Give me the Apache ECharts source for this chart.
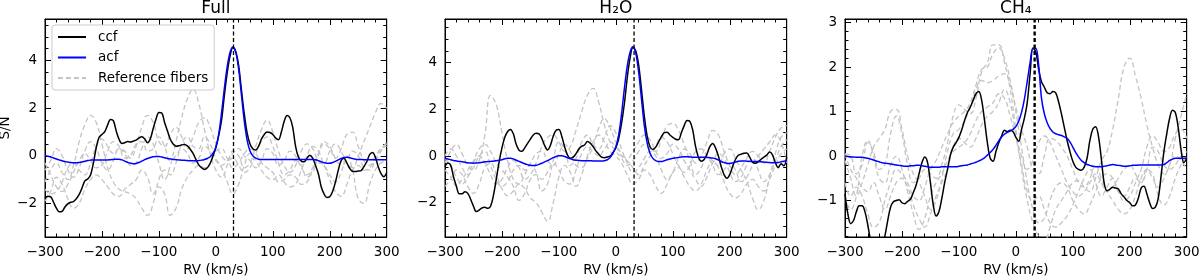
<!DOCTYPE html>
<html><head><meta charset="utf-8">
<script src="https://cdn.jsdelivr.net/npm/echarts@6/dist/echarts.min.js"></script>
<style>html,body{margin:0;padding:0;background:#fff}#c{width:1200px;height:276px}</style>
</head><body><div id="c"></div>
<script>
// sampling grids (RV, km/s)
const rv5 = []; for (let v = -300; v <= 300; v += 5) rv5.push(v);
const rv10 = []; for (let v = -300; v <= 300; v += 10) rv10.push(v);

const panelTitles = ['Full', 'H\u2082O', 'CH\u2084'];
const xLabelName = 'RV (km/s)';
const yLabelName = 'S/N';
const markRV = [31, 32, 33];
const yRange = [[-3.41, 5.75], [-3.47, 5.87], [-1.82, 3.08]];
const yMajor = [[-2, 0, 2, 4], [-2, 0, 2, 4], [-1, 0, 1, 2, 3]];
const yMinorA = [-3, -2.5, -1.5, -1, -0.5, 0.5, 1, 1.5, 2.5, 3, 3.5, 4.5, 5, 5.5];
const yMinorC = [-1.8, -1.6, -1.4, -1.2, -0.8, -0.6, -0.4, -0.2, 0.2, 0.4, 0.6, 0.8, 1.2, 1.4, 1.6, 1.8, 2.2, 2.4, 2.6, 2.8];
const yMinor = [yMinorA, yMinorA, yMinorC];

// ---- Full (step 5)
const fullCcf = [
-1.78,-1.70,-1.72,-1.95,-2.20,-2.35,-2.33,-2.15,-2.02,-1.95,
-1.92,-1.80,-1.62,-1.35,-1.05,-0.97,-0.80,-0.30,0.35,0.78,
0.90,1.02,1.30,1.53,1.48,1.05,0.70,0.52,0.55,0.60,
0.58,0.62,0.66,0.75,0.80,0.72,0.55,0.72,1.15,1.55,
1.82,1.80,1.40,1.05,0.70,0.50,0.40,0.42,0.46,0.48,
0.42,0.28,0.10,-0.15,-0.38,-0.50,-0.57,-0.50,-0.32,0.00,
0.35,0.85,1.50,2.55,3.50,4.20,4.55,4.38,3.80,2.75,
1.75,0.95,0.50,0.30,0.25,0.40,0.70,0.90,1.00,0.98,
0.90,0.75,0.68,1.00,1.45,1.70,1.60,1.20,0.40,-0.05,
-0.22,-0.25,-0.10,0.03,-0.10,-0.40,-0.75,-1.30,-1.60,-1.75,
-1.72,-1.50,-1.10,-0.60,-0.20,-0.10,-0.30,-0.52,-0.65,-0.66,
-0.64,-0.62,-0.45,-0.25,0.05,0.14,-0.05,-0.45,-0.75,-0.88,
-0.70];
const fullAcf = [
0.00,-0.02,-0.05,-0.09,-0.13,-0.17,-0.21,-0.24,-0.26,-0.28,
-0.29,-0.29,-0.28,-0.26,-0.23,-0.20,-0.18,-0.17,-0.17,-0.17,
-0.17,-0.17,-0.17,-0.16,-0.15,-0.14,-0.14,-0.17,-0.22,-0.27,
-0.31,-0.33,-0.32,-0.28,-0.22,-0.16,-0.11,-0.07,-0.04,-0.03,
-0.03,-0.05,-0.08,-0.11,-0.13,-0.15,-0.16,-0.17,-0.18,-0.19,
-0.20,-0.21,-0.21,-0.21,-0.20,-0.18,-0.15,-0.11,-0.04,0.10,
0.35,0.90,1.80,2.85,3.75,4.35,4.57,4.35,3.65,2.55,
1.45,0.65,0.20,0.00,-0.10,-0.14,-0.15,-0.15,-0.15,-0.15,
-0.15,-0.15,-0.15,-0.15,-0.15,-0.15,-0.15,-0.15,-0.15,-0.15,
-0.15,-0.15,-0.15,-0.15,-0.15,-0.16,-0.20,-0.25,-0.29,-0.31,
-0.31,-0.28,-0.23,-0.17,-0.11,-0.07,-0.06,-0.08,-0.11,-0.14,
-0.15,-0.15,-0.16,-0.16,-0.16,-0.16,-0.16,-0.16,-0.16,-0.16,
-0.16];
// reference fibers (step 10)
const fullRef1 = [-0.6,-0.2,0.3,0.0,-0.6,-0.9,-0.5,0.2,0.6,0.3, -0.3,-0.6,-0.2,0.3,0.1,-0.4,-0.3,0.3,0.8,0.5, -0.3,-1.0,-0.4,0.6,1.6,2.4,2.8,2.2,1.1,0.1, -0.6,-0.9,-0.4,0.2,0.0,-0.5,-0.3,0.4,1.1,1.5, 1.0,0.2,-0.4,-0.7,-0.4,0.2,0.5,0.3,-0.2,-0.3, 0.2,0.5,0.2,-0.3,-0.5,0.0,0.6,1.2,1.8,2.2, 2.0];
const fullRef2 = [-1.1,-0.6,-0.3,-0.7,-1.0,-0.4,0.6,1.3,1.7,1.4, 0.5,-0.5,-1.1,-1.4,-1.5,-1.6,-1.8,-2.2,-2.5,-2.0, -1.0,-0.6,-0.8,-0.3,0.5,0.8,0.4,0.3,0.8,0.5, -0.1,-0.5,-1.1,-1.6,-1.2,-0.4,0.1,-0.2,-0.6,-0.9, -1.0,-0.8,-1.1,-1.3,-1.2,-0.6,0.0,0.4,0.2,-0.4, -1.0,-1.5,-1.7,-1.2,-0.6,-0.4,-0.6,-0.5,-0.1,0.3, 0.5];
const fullRef3 = [-1.4,-1.6,-1.5,-1.1,-0.5,-0.3,-0.6,-0.8,-0.3,0.4, 0.7,0.4,0.1,0.3,0.2,-0.1,0.4,1.2,1.7,1.4, 0.6,0.4,0.9,1.2,0.8,0.3,0.8,1.4,1.6,1.2, 0.5,0.0,-0.2,-0.1,-0.4,-0.7,-0.5,0.1,0.6,0.8, 0.4,-0.3,-0.8,-0.6,-0.2,-0.4,-0.9,-0.7,0.0,0.5, 0.3,-0.1,0.3,0.9,1.0,0.4,-0.2,-0.4,0.0,0.3, 0.4];
const fullRef4 = [-1.9,-1.5,-0.9,-1.2,-1.8,-2.2,-2.0,-1.4,-1.0,-0.8, -1.0,-1.3,-1.6,-1.7,-1.4,-1.2,-1.0,-0.6,-0.9,-1.6, -1.3,-1.6,-2.5,-2.2,-1.4,-0.9,-0.6,-0.4,-0.5,-0.3, 0.2,0.3,-0.1,-0.5,-0.3,0.1,0.3,0.1,-0.3,-0.5, -0.7,-1.1,-1.0,-0.8,-0.9,-1.2,-1.1,-0.6,-0.3,-0.4, -0.8,-1.1,-0.7,0.0,-0.6,-1.8,-2.0,-1.2,-0.6,-0.3, -0.2];
const fullRef5 = [-0.3,-0.8,-1.3,-1.5,-1.2,-0.7,-0.2,0.1,-0.2,-0.5, -0.4,0.2,0.6,0.4,-0.1,0.0,0.5,0.6,0.2,0.3, 0.8,0.4,-0.2,0.0,0.3,0.1,-0.3,-0.1,0.4,0.2, -0.2,-0.4,-0.2,0.1,0.3,0.0,-0.2,-0.5,-0.2,0.3, 0.1,-0.4,-0.2,0.2,0.0,-0.5,-0.8,-0.5,0.1,0.6, 0.4,-0.1,-0.4,-0.2,0.2,0.0,-0.5,-0.6,-0.2,0.2, 0.6];

// ---- H2O (step 5)
const h2oCcf = [
-0.45,-0.30,-0.40,-0.90,-1.30,-1.62,-1.62,-1.53,-1.60,-1.85,
-2.15,-2.38,-2.32,-2.22,-2.20,-2.24,-2.15,-1.70,-1.00,-0.25,
0.35,0.80,1.05,1.14,0.95,0.50,0.25,0.20,0.35,0.54,
0.72,0.90,0.97,0.95,0.75,0.45,0.26,0.45,0.85,1.10,
1.14,0.85,0.40,0.05,-0.10,-0.05,0.10,0.30,0.42,0.47,
0.62,0.55,0.40,0.22,0.08,-0.05,-0.07,-0.04,0.00,0.15,
0.35,0.75,1.40,2.25,3.35,4.20,4.65,4.50,3.90,2.85,
1.70,0.85,0.40,0.28,0.38,0.60,0.83,1.00,1.02,0.90,
0.80,0.72,0.70,1.00,1.30,1.52,1.48,1.11,0.40,-0.05,
-0.22,-0.15,0.08,0.40,0.54,0.35,0.00,-0.45,-0.80,-0.95,
-0.80,-0.45,-0.15,0.03,0.08,0.12,0.13,-0.05,-0.27,-0.31,
-0.25,-0.14,-0.05,0.04,0.17,0.05,-0.28,-0.50,-0.33,-0.42,
-0.05];
const h2oAcf = [
-0.10,-0.13,-0.16,-0.19,-0.21,-0.23,-0.25,-0.27,-0.29,-0.30,
-0.31,-0.30,-0.29,-0.27,-0.25,-0.24,-0.23,-0.22,-0.20,-0.18,
-0.16,-0.12,-0.10,-0.10,-0.13,-0.18,-0.23,-0.28,-0.33,-0.37,
-0.40,-0.41,-0.40,-0.36,-0.31,-0.25,-0.20,-0.13,-0.07,-0.02,
0.01,0.01,-0.02,-0.07,-0.12,-0.16,-0.18,-0.19,-0.20,-0.20,
-0.20,-0.20,-0.21,-0.21,-0.21,-0.21,-0.20,-0.16,-0.06,0.12,
0.40,0.90,1.80,2.90,3.85,4.45,4.68,4.40,3.60,2.45,
1.30,0.55,0.12,-0.10,-0.20,-0.24,-0.24,-0.20,-0.16,-0.13,
-0.10,-0.08,-0.06,-0.04,-0.03,-0.03,-0.04,-0.05,-0.05,-0.05,
-0.05,-0.05,-0.06,-0.07,-0.09,-0.12,-0.17,-0.23,-0.28,-0.31,
-0.32,-0.30,-0.26,-0.22,-0.21,-0.21,-0.22,-0.23,-0.24,-0.24,
-0.24,-0.25,-0.26,-0.27,-0.28,-0.29,-0.29,-0.28,-0.25,-0.22,
-0.20];
const h2oRef1 = [-0.3,0.2,0.5,0.1,-0.4,-0.6,-0.2,0.9,2.6,2.2, 1.0,-0.2,-1.0,-1.2,-0.8,-0.4,-0.7,-1.5,-1.2,-0.2, 0.6,0.3,-0.4,-0.1,0.6,0.9,0.5,0.3,0.8,1.3, 1.0,0.3,-0.3,-0.7,-0.5,-0.1,0.2,0.0,-0.6,-1.0, -0.7,-0.1,0.3,0.1,-0.3,0.0,0.6,1.1,0.9,0.2, -0.4,-0.8,-0.5,-0.1,0.2,0.0,-0.3,0.2,0.8,1.2, 1.3];
const h2oRef2 = [-1.3,-1.0,-0.6,-0.8,-1.3,-1.6,-1.2,-0.5,-0.3,-0.8, -1.4,-1.7,-1.5,-1.2,-1.4,-1.8,-2.0,-2.4,-2.8,-2.0, -0.9,-0.4,-0.7,-1.3,-0.8,0.0,0.6,0.9,0.6,0.2, 0.0,-0.3,-0.8,-1.2,-1.0,-0.6,-0.8,-1.3,-1.6,-1.2, -0.7,-0.5,-0.9,-1.3,-1.5,-1.2,-0.6,-0.2,-0.5,-1.1, -1.6,-1.8,-1.6,-1.2,-1.0,-1.3,-1.5,-1.0,-0.4,0.1, 0.3];
const h2oRef3 = [-0.1,-0.4,-0.9,-1.2,-0.9,-0.3,0.0,-0.3,-0.8,-1.2, -1.0,-0.5,-0.2,-0.5,-1.0,-0.8,-0.3,0.4,0.8,0.9, 0.6,0.2,0.4,1.1,1.9,2.6,2.9,2.3,1.3,0.6, 0.2,-0.1,-0.4,-0.2,0.2,0.5,0.3,0.2,0.7,1.3, 1.4,1.1,0.5,-0.2,-0.8,-0.5,0.0,-0.2,-0.4,0.1, 0.3,-0.1,-0.6,-1.1,-1.8,-2.3,-1.9,-0.9,0.1,0.8, 1.0];
const h2oRef4 = [-0.6,-0.9,-1.3,-1.0,-0.6,-0.2,0.3,0.5,0.2,-0.3, -0.6,-0.9,-1.3,-1.9,-1.6,-1.0,-0.8,-1.0,-0.7,-0.3, -0.6,-1.1,-1.2,-0.6,0.1,0.4,0.2,0.0,0.3,0.6, 0.4,0.0,-0.2,-0.5,-0.8,-0.4,0.0,0.4,0.8,0.6, 0.1,-0.4,-0.7,-0.4,0.2,0.3,0.0,-0.4,-0.8,-0.6, -0.3,-0.6,-1.1,-0.9,-0.4,0.0,0.3,0.6,0.9,0.6, -0.3];
const h2oRef5 = [0.0,0.3,0.0,-0.5,-0.8,-0.5,0.0,0.2,-0.4,-1.0, -1.3,-1.1,-0.6,-0.4,-0.6,-0.3,0.1,0.2,-0.2,-0.4, 0.1,0.5,0.2,-0.4,-0.5,-0.1,0.4,1.2,1.6,1.2, 0.6,0.1,-0.1,0.2,0.6,0.9,0.7,0.2,-0.1,0.1, 0.5,0.3,-0.2,-0.6,-1.0,-1.3,-0.9,-0.3,0.1,-0.1, -0.7,-1.1,-0.9,-0.4,-0.1,-0.6,-1.1,-0.8,-0.2,0.4, 0.7];

// ---- CH4 (step 5)
const ch4Ccf = [
-0.85,-1.30,-1.52,-1.45,-1.25,-1.12,-1.12,-1.25,-1.55,-1.90,
-2.10,-2.20,-2.15,-2.00,-1.80,-1.45,-1.15,-1.03,-1.00,-0.98,
-1.05,-1.07,-1.02,-0.97,-0.82,-0.65,-0.40,-0.15,-0.02,-0.15,
-0.60,-1.10,-1.35,-1.25,-0.95,-0.60,-0.30,0.02,0.20,0.30,
0.42,0.59,0.80,0.98,1.10,1.25,1.40,1.45,1.25,0.80,
0.30,-0.05,-0.12,0.10,0.30,0.45,0.58,0.55,0.58,0.55,
0.42,0.33,0.60,0.85,1.20,1.85,2.42,2.35,1.95,1.67,
1.55,1.42,1.40,1.45,1.42,1.22,0.95,0.65,0.35,0.10,
-0.12,-0.25,-0.30,-0.32,-0.25,-0.05,0.35,0.60,0.66,0.45,
-0.05,-0.60,-0.78,-0.75,-0.70,-0.72,-0.74,-0.85,-0.92,-1.00,
-1.05,-1.12,-1.10,-0.95,-0.72,-0.68,-0.85,-1.05,-1.18,-1.15,
-0.95,-0.45,0.10,0.50,0.85,1.03,0.98,0.65,0.15,-0.15,
-0.05];
const ch4Acf = [
0.00,-0.01,-0.02,-0.02,-0.03,-0.03,-0.03,-0.04,-0.05,-0.07,
-0.09,-0.11,-0.13,-0.15,-0.16,-0.17,-0.18,-0.19,-0.20,-0.21,
-0.22,-0.23,-0.23,-0.22,-0.22,-0.21,-0.21,-0.22,-0.23,-0.24,
-0.25,-0.25,-0.25,-0.25,-0.24,-0.24,-0.24,-0.24,-0.24,-0.24,
-0.23,-0.22,-0.21,-0.20,-0.18,-0.16,-0.14,-0.11,-0.08,-0.04,
0.02,0.08,0.15,0.24,0.34,0.43,0.49,0.53,0.56,0.60,
0.66,0.78,0.98,1.28,1.68,2.10,2.42,2.42,2.05,1.30,
0.95,0.75,0.62,0.54,0.50,0.48,0.46,0.43,0.40,0.32,
0.20,0.08,-0.02,-0.10,-0.15,-0.19,-0.21,-0.23,-0.24,-0.24,
-0.24,-0.23,-0.22,-0.20,-0.19,-0.20,-0.21,-0.22,-0.23,-0.23,
-0.22,-0.21,-0.21,-0.20,-0.20,-0.20,-0.20,-0.20,-0.20,-0.20,
-0.20,-0.20,-0.19,-0.15,-0.10,-0.07,-0.05,-0.05,-0.05,-0.05,
-0.05];
const ch4Ref1 = [0.05,0.0,-0.4,-0.2,0.3,0.1,-0.3,-0.2,0.5,0.9, 0.5,-0.2,-0.6,-0.5,-0.3,-0.4,-0.5,-0.2,0.3,0.9, 1.15,1.05,0.95,1.3,1.9,2.1,2.5,2.5,2.1,1.5, 0.6,-0.3,-1.0,-1.5,-1.8,-1.9,-1.6,-1.2,-1.0,-0.8, -0.6,-0.55,-0.7,-0.8,-0.5,-0.1,0.1,0.6,1.3,2.0, 2.2,1.8,1.3,0.7,0.2,-0.2,-0.4,-0.2,0.4,0.9, 1.4];
const ch4Ref2 = [-0.6,-0.9,-0.7,-0.9,-1.3,-1.6,-1.5,-1.0,-0.6,-0.3, -0.4,-0.6,-0.9,-1.0,-0.7,-0.3,-0.1,0.2,0.5,0.75, 0.9,1.0,1.2,1.6,1.95,2.0,2.3,2.43,2.2,1.7, 1.0,0.2,-0.6,-1.2,-1.5,-1.4,-1.0,-0.7,-0.6,-0.7, -1.0,-1.2,-1.3,-1.1,-0.8,-0.5,-0.4,-0.5,-0.8,-1.0, -0.9,-0.6,-0.3,0.2,0.45,0.3,0.1,0.2,0.5,0.6, 0.4];
const ch4Ref3 = [-0.1,-0.5,-0.9,-0.6,-0.2,0.2,0.4,0.6,1.0,1.05, 0.6,0.0,-0.4,-0.6,-0.9,-1.2,-1.0,-0.5,0.1,0.5, 0.6,0.8,1.1,1.5,1.7,1.65,1.7,1.8,1.85,1.6, 1.1,0.6,0.2,-0.3,-0.4,0.0,0.4,0.35,0.2,0.0, -0.3,-0.6,-0.7,-0.5,-0.2,-0.5,-0.8,-1.0,-1.2,-1.3, -1.2,-0.9,-0.5,-0.3,-0.5,-0.7,-0.5,-0.2,0.0,-0.1, -0.3];
const ch4Ref4 = [-0.9,-1.2,-0.9,0.0,0.35,0.0,-0.5,-0.6,-0.2,0.0, -0.3,-0.8,-1.3,-1.65,-1.4,-0.9,-0.6,-0.4,-0.1,0.1, 0.2,0.3,0.5,0.8,1.0,1.1,1.2,1.4,1.3,0.9, 0.4,-0.2,-0.8,-1.0,-0.9,-1.2,-1.5,-1.6,-1.5,-1.35, -1.1,-0.8,-0.5,-0.3,-0.6,-0.9,-0.7,-0.5,-0.8,-0.9, -0.7,-0.5,-0.6,-0.3,-0.4,-0.9,-1.1,-0.9,-0.5,-0.2, 0.0];
const ch4Ref5 = [0.05,-0.3,-0.5,-0.7,-0.8,-0.6,-0.9,-1.2,-0.9,-0.6, -0.5,-0.7,-1.1,-1.4,-1.6,-1.3,-0.9,-0.6,-0.3,0.2, 0.4,0.3,0.2,0.4,0.7,0.9,1.0,1.2,1.5,1.2, 0.5,0.0,-0.3,-0.1,0.3,0.45,0.3,0.0,-0.3,-0.6, -0.8,-0.9,-0.8,-0.6,-0.4,-0.6,-0.8,-0.7,-0.5,-0.3, -0.2,-0.4,-0.6,-0.3,0.2,0.1,-0.2,-0.3,-0.2,0.0, 0.1];

const panels = [
  {ccf: fullCcf, acf: fullAcf, refs: [fullRef1, fullRef2, fullRef3, fullRef4, fullRef5]},
  {ccf: h2oCcf, acf: h2oAcf, refs: [h2oRef1, h2oRef2, h2oRef3, h2oRef4, h2oRef5]},
  {ccf: ch4Ccf, acf: ch4Acf, refs: [ch4Ref1, ch4Ref2, ch4Ref3, ch4Ref4, ch4Ref5]}
];

// ---- layout / style
const FF = 'DejaVu Sans';
const GL = [45, 445, 845], GW = 341.7, GT = 19, GH = 218;
const fmt = v => String(v).replace('-', '\u2212');
const lineSt = () => ({color: '#000', width: 1});
const labelSt = () => ({fontSize: 13.5, fontFamily: FF, color: '#000'});
const axLine = show => ({show: show, onZero: false, lineStyle: lineSt()});
const hidden = (g) => ({type: 'value', gridIndex: g, show: false, min: 0, max: 1,
  axisLine: {show: false, onZero: false}, splitLine: {show: false}});

const grids = [], xAxes = [], yAxes = [], series = [], titles = [];
for (let p = 0; p < 3; p++) {
  const gMain = grids.length;
  grids.push({left: GL[p], top: GT, width: GW, height: GH, show: true, outerBoundsMode: 'none',
    borderColor: '#000', borderWidth: 1, backgroundColor: 'transparent'});
  const gTop = grids.length;
  grids.push({left: GL[p], top: 0, width: GW, height: GT, outerBoundsMode: 'none'});
  const gRight = grids.length;
  grids.push({left: GL[p] + GW, top: GT, width: 10, height: GH, outerBoundsMode: 'none'});

  titles.push({text: panelTitles[p], left: GL[p] + GW / 2, top: 0, textAlign: 'center', padding: 0, z: 20,
    textStyle: {fontSize: 17, fontWeight: 'normal', fontFamily: FF, color: '#000'}});

  const xTicks = (g, inside) => ({type: 'value', gridIndex: g, min: -300, max: 300, interval: 100,
    position: 'bottom', splitLine: {show: false}, axisLine: axLine(true),
    axisTick: {show: true, inside: inside, length: 6, lineStyle: lineSt()},
    minorTick: {show: true, splitNumber: 5, length: 3.5, lineStyle: lineSt()},
    minorSplitLine: {show: false}, axisLabel: {show: false}});
  const yTicks = (g, inside, len, vals, show) => ({type: 'value', gridIndex: g, position: 'left',
    min: yRange[p][0], max: yRange[p][1], splitLine: {show: false}, axisLine: axLine(show),
    axisTick: {show: true, inside: inside, length: len, customValues: vals, lineStyle: lineSt()},
    axisLabel: {show: false}});

  // main grid axes
  const ix = xAxes.length;
  xAxes.push(Object.assign(xTicks(gMain, true), {
    axisLabel: Object.assign({show: true, margin: 8, formatter: fmt}, labelSt()),
    name: xLabelName, nameLocation: 'middle', nameGap: 23, nameTextStyle: labelSt()}));
  const iy = yAxes.length;
  yAxes.push(Object.assign(yTicks(gMain, true, 6, yMajor[p], true), {
    axisLabel: Object.assign({show: true, margin: 8, customValues: yMajor[p], formatter: fmt}, labelSt()),
    name: p === 0 ? yLabelName : '', nameLocation: 'middle', nameGap: 33, nameRotate: 90, nameTextStyle: labelSt()}));
  yAxes.push(yTicks(gMain, true, 3.5, yMinor[p], false));
  // top edge ticks: bottom axis of a strip grid above the panel, ticks pointing down into the panel
  xAxes.push(xTicks(gTop, false));
  yAxes.push(hidden(gTop));
  // right edge ticks: left axis of a strip grid right of the panel, ticks pointing left into the panel
  xAxes.push(hidden(gRight));
  yAxes.push(yTicks(gRight, false, 6, yMajor[p], true));
  yAxes.push(yTicks(gRight, false, 3.5, yMinor[p], false));

  const P = panels[p];
  P.refs.forEach(r => series.push({type: 'line', name: 'Reference fibers', xAxisIndex: ix, yAxisIndex: iy,
    data: rv10.map((x, i) => [x, r[i]]), symbol: 'none', showSymbol: false, smooth: 0.45,
    lineStyle: {color: '#c4c4c4', width: 1.3, type: [5, 3]}, itemStyle: {color: '#c4c4c4'}, z: 1}));
  series.push({type: 'line', name: 'ccf', xAxisIndex: ix, yAxisIndex: iy,
    data: rv5.map((x, i) => [x, P.ccf[i]]), symbol: 'none', showSymbol: false, smooth: 0.35,
    lineStyle: {color: '#000', width: 1.5}, itemStyle: {color: '#000'}, z: 2});
  series.push({type: 'line', name: 'acf', xAxisIndex: ix, yAxisIndex: iy,
    data: rv5.map((x, i) => [x, P.acf[i]]), symbol: 'none', showSymbol: false, smooth: 0.35,
    lineStyle: {color: '#0000ff', width: 1.5}, itemStyle: {color: '#0000ff'}, z: 3});
  // vertical dashed marker at the planet RV, spanning the axis range
  series.push({type: 'line', name: 'rvMark' + p, xAxisIndex: ix, yAxisIndex: iy,
    data: [[markRV[p], yRange[p][0]], [markRV[p], yRange[p][1]]], symbol: 'none', showSymbol: false,
    silent: true, lineStyle: {color: '#000', type: [4, 2.5], width: p === 2 ? 2.4 : 1.3}, z: 4});
}

const chart = echarts.init(document.getElementById('c'), null, {renderer: 'canvas'});
chart.setOption({
  animation: false,
  backgroundColor: '#fff',
  title: titles,
  legend: {data: ['ccf', 'acf', 'Reference fibers'], orient: 'vertical', left: 52, top: 25,
    padding: [5, 6, 5, 5], itemWidth: 28, itemHeight: 14, itemGap: 6.5,
    itemStyle: {opacity: 0},
    textStyle: {fontSize: 13.5, fontFamily: FF, color: '#000', padding: [0, 0, 0, 7]},
    borderColor: '#cccccc', borderWidth: 1, borderRadius: 3, backgroundColor: 'rgba(255,255,255,0.8)'},
  grid: grids, xAxis: xAxes, yAxis: yAxes, series: series
});
</script></body></html>
